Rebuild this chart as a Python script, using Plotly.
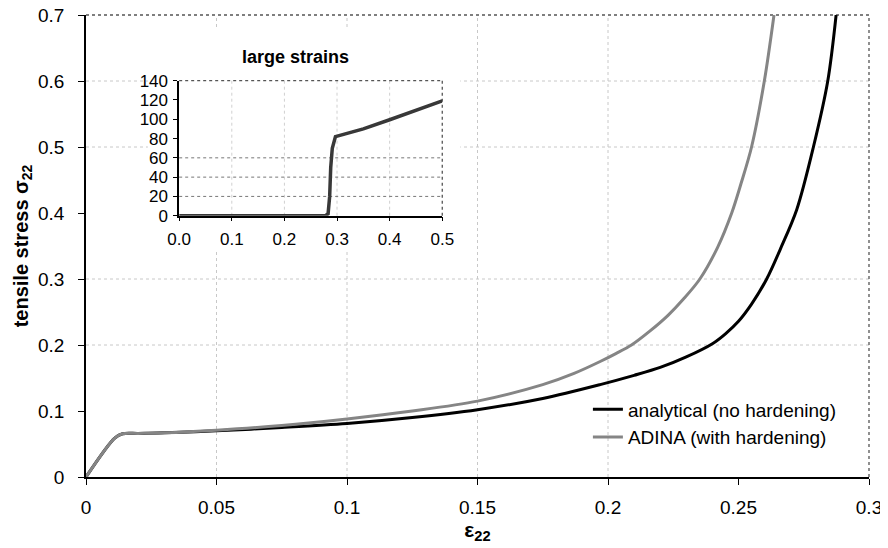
import plotly.graph_objects as go

# ---- data ----
eps_analytical = [0, 0.011, 0.014, 0.02, 0.03, 0.05, 0.075, 0.1, 0.125, 0.15, 0.175, 0.197, 0.21,
                  0.22, 0.23, 0.24, 0.245, 0.25, 0.255, 0.2608, 0.266, 0.2723, 0.2787, 0.2842, 0.2874]
sig_analytical = [0, 0.059, 0.0655, 0.066, 0.067, 0.070, 0.075, 0.081, 0.090, 0.102, 0.119, 0.140, 0.154,
                  0.166, 0.182, 0.202, 0.217, 0.236, 0.262, 0.300, 0.345, 0.405, 0.500, 0.600, 0.700]

eps_adina = [0, 0.011, 0.014, 0.02, 0.03, 0.05, 0.075, 0.1, 0.125, 0.15, 0.175, 0.187, 0.197, 0.203,
             0.209, 0.216, 0.223, 0.229, 0.2352, 0.242, 0.2474, 0.251, 0.255, 0.2599, 0.2636]
sig_adina = [0, 0.059, 0.0655, 0.066, 0.067, 0.071, 0.078, 0.088, 0.100, 0.115, 0.140, 0.157, 0.175, 0.187,
             0.200, 0.221, 0.245, 0.270, 0.300, 0.348, 0.400, 0.445, 0.500, 0.600, 0.700]

eps_large = [0, 0.1, 0.2, 0.278, 0.283, 0.286, 0.288, 0.291, 0.297, 0.35, 0.4, 0.45, 0.5]
sig_large = [0, 0, 0, 0, 2, 20, 50, 70, 82, 90, 99.5, 109, 119]

x_ticks = [0, 0.05, 0.1, 0.15, 0.2, 0.25, 0.3]
x_ticklabels = ["0", "0.05", "0.1", "0.15", "0.2", "0.25", "0.3"]
y_ticks = [0, 0.1, 0.2, 0.3, 0.4, 0.5, 0.6, 0.7]
y_ticklabels = ["0", "0.1", "0.2", "0.3", "0.4", "0.5", "0.6", "0.7"]
main_grid_x = [0.05, 0.1, 0.15, 0.2]
main_grid_y = [0.2, 0.3, 0.5, 0.6]

inset_x_ticks = [0, 0.1, 0.2, 0.3, 0.4, 0.5]
inset_x_labels = ["0.0", "0.1", "0.2", "0.3", "0.4", "0.5"]
inset_y_ticks = [0, 20, 40, 60, 80, 100, 120, 140]
inset_y_labels = ["0", "20", "40", "60", "80", "100", "120", "140"]
inset_grid_x = [0.1, 0.2, 0.3, 0.4]
inset_grid_y = [20, 40, 60]

FONT = "Liberation Sans, Arial, sans-serif"

fig = go.Figure()
fig.add_trace(go.Scatter(x=eps_analytical, y=sig_analytical, mode="lines",
                         name="analytical (no hardening)",
                         line=dict(color="#000000", width=3, shape="spline", smoothing=0.9),
                         xaxis="x", yaxis="y"))
fig.add_trace(go.Scatter(x=eps_adina, y=sig_adina, mode="lines",
                         name="ADINA (with hardening)",
                         line=dict(color="#858585", width=3, shape="spline", smoothing=0.9),
                         xaxis="x", yaxis="y"))
fig.add_trace(go.Scatter(x=eps_large, y=sig_large, mode="lines", showlegend=False,
                         line=dict(color="#383838", width=3.5), xaxis="x2", yaxis="y2"))

GRID = dict(color="#c8c8c8", width=1, dash="dot")
BORDER = dict(color="#555555", width=1.3, dash="dot")

shapes = []
for v in main_grid_x:
    shapes.append(dict(type="line", xref="x", yref="paper", x0=v, x1=v, y0=0, y1=1,
                       layer="below", line=GRID))
for v in main_grid_y:
    shapes.append(dict(type="line", xref="paper", yref="y", x0=0, x1=1, y0=v, y1=v,
                       layer="below", line=GRID))
# dotted top / right frame
shapes.append(dict(type="line", xref="paper", yref="paper", x0=0, x1=1, y0=1, y1=1,
                   layer="below", line=BORDER))
shapes.append(dict(type="line", xref="paper", yref="paper", x0=1, x1=1, y0=0, y1=1,
                   layer="below", line=BORDER))
# white panel behind the inset
shapes.append(dict(type="rect", xref="paper", yref="paper", x0=0.079, x1=0.478, y0=0.487, y1=0.968,
                   layer="below", fillcolor="white", line=dict(width=0)))
# inset gridlines and frame
for v in inset_grid_x:
    shapes.append(dict(type="line", xref="x2", yref="y2 domain", x0=v, x1=v, y0=0, y1=1,
                       layer="below", line=dict(color="#d0d0d0", width=1, dash="dot")))
for v in inset_grid_y:
    shapes.append(dict(type="line", xref="x2 domain", yref="y2", x0=0, x1=1, y0=v, y1=v,
                       layer="below", line=dict(color="#777777", width=1, dash="dot")))
shapes.append(dict(type="line", xref="x2 domain", yref="y2 domain", x0=0, x1=1, y0=1, y1=1,
                   layer="below", line=BORDER))
shapes.append(dict(type="line", xref="x2 domain", yref="y2 domain", x0=1, x1=1, y0=0, y1=1,
                   layer="below", line=BORDER))

axis_common = dict(showline=True, linecolor="black", linewidth=1.5, ticks="outside",
                   tickcolor="black", showgrid=False, zeroline=False, automargin=False,
                   ticklabeloverflow="allow")

# the page body has an 8px margin, so the figure is 880x540 and margins are shifted by 8px
fig.update_layout(
    width=880, height=540,
    margin=dict(l=78, r=19, t=7, b=71),
    paper_bgcolor="white", plot_bgcolor="rgba(0,0,0,0)",
    font=dict(family=FONT, size=19, color="black"),
    xaxis=dict(domain=[0, 1], range=[0, 0.3], tickvals=x_ticks, ticktext=x_ticklabels,
               ticklen=6, tickfont=dict(size=19), anchor="y", ticklabelstandoff=6,
               title=dict(text="<b>ε<sub>22</sub></b>", font=dict(size=21), standoff=2),
               **axis_common),
    yaxis=dict(domain=[0, 1], range=[0, 0.7], tickvals=y_ticks, ticktext=y_ticklabels,
               ticklen=6, tickfont=dict(size=19), anchor="x", ticklabelstandoff=10,
               title=dict(text="<b>tensile stress σ<sub>22</sub></b>", font=dict(size=20), standoff=4),
               **axis_common),
    xaxis2=dict(domain=[0.119, 0.455], range=[0, 0.5], tickvals=inset_x_ticks, ticktext=inset_x_labels,
                ticklen=4, tickfont=dict(size=17), anchor="y2", ticklabelstandoff=3, **axis_common),
    yaxis2=dict(domain=[0.5656, 0.8578], range=[0, 140], tickvals=inset_y_ticks, ticktext=inset_y_labels,
                ticklen=4, tickfont=dict(size=17), anchor="x2", ticklabelstandoff=2, **axis_common),
    shapes=shapes,
    annotations=[dict(text="<b>large strains</b>", xref="paper", yref="paper",
                      x=0.267, y=0.909, xanchor="center", yanchor="middle",
                      showarrow=False, font=dict(size=18))],
    legend=dict(x=0.641, y=0.116, xanchor="left", yanchor="middle", bgcolor="rgba(0,0,0,0)",
                font=dict(size=19), tracegroupgap=0),
    showlegend=True,
)

fig.write_html("out.html")
